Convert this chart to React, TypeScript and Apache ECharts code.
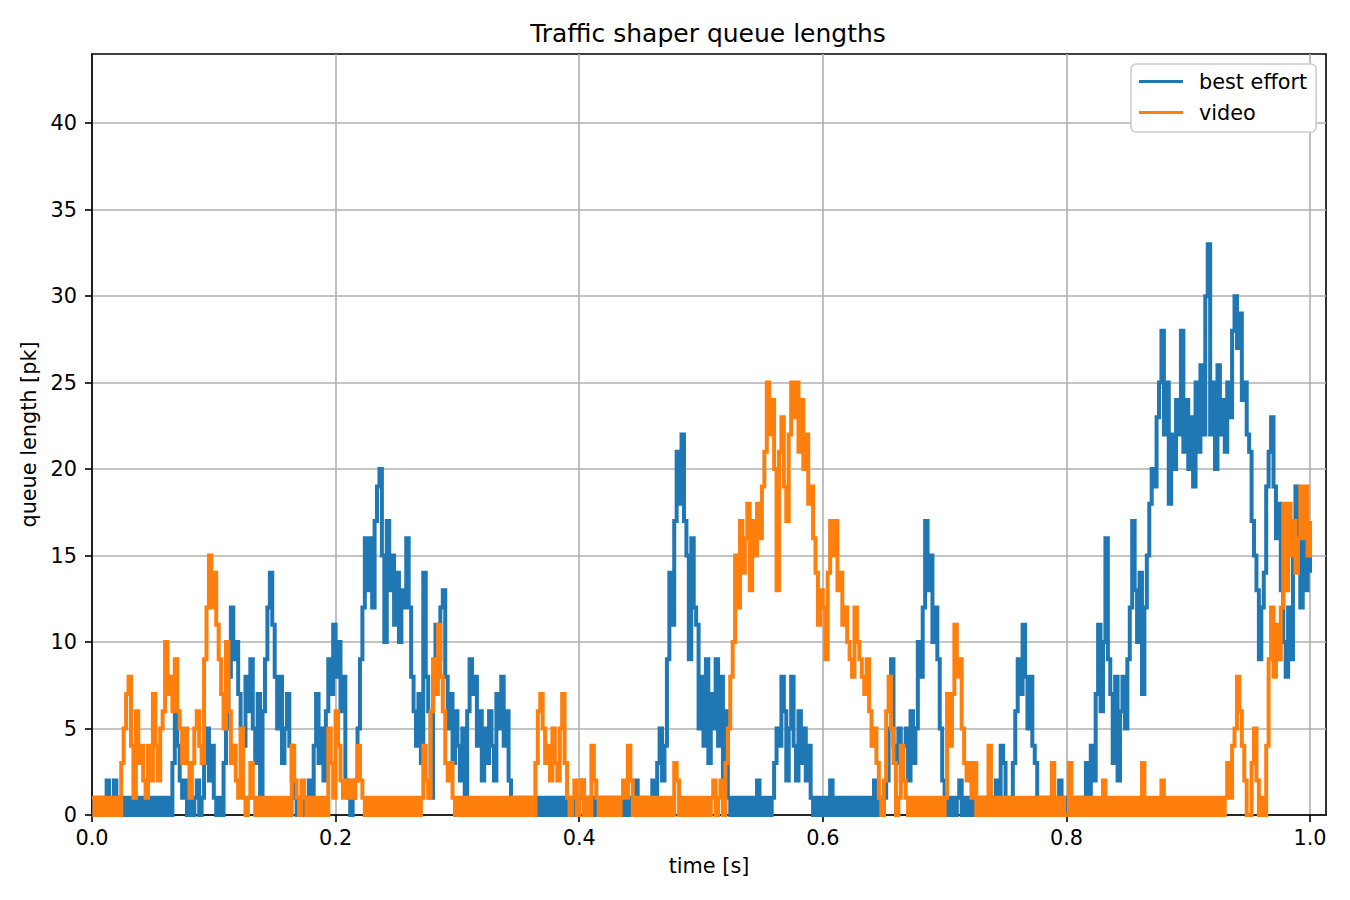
import { useEffect, useRef } from "react";
import * as echarts from "echarts";

const FONT = "DejaVu Sans";
const TIME_STEP = 0.002;

// queue length samples, one every TIME_STEP seconds, from t = 0 to t = 1.0
const bestEffortQueue = [
  1,0,1,0,1,0,2,0,1,2,0,1,0,1,0,1,0,1,0,1,0,1,0,1,0,
  1,0,1,0,1,0,1,0,3,6,4,2,1,2,0,1,0,1,2,0,1,3,5,2,4,
  1,0,1,0,3,5,8,12,9,10,7,5,4,8,6,9,5,3,7,1,6,9,12,14,11,
  8,5,8,3,5,7,4,2,1,0,1,0,1,0,2,1,4,7,3,5,2,6,9,7,11,
  8,10,6,8,2,1,0,1,2,5,9,12,16,13,16,12,17,19,20,15,10,17,13,15,11,
  14,10,13,12,16,12,8,6,4,7,3,14,8,6,1,8,11,9,12,13,8,5,7,3,6,
  4,2,5,0,6,9,7,8,4,6,2,5,3,6,4,2,7,5,8,4,6,2,1,0,1,
  0,1,0,1,0,1,0,1,0,1,0,1,0,1,0,1,0,1,0,1,0,1,0,1,0,
  1,2,0,1,0,1,0,1,0,1,0,1,0,1,0,1,0,1,0,1,0,1,0,2,0,
  1,0,1,0,1,2,0,3,5,2,4,9,14,11,17,21,18,22,17,15,9,16,12,11,5,
  8,4,9,3,7,5,9,4,8,2,6,1,0,1,0,1,0,1,0,1,0,1,0,2,0,
  1,0,1,0,1,3,5,4,8,6,2,5,8,4,2,6,3,5,2,4,1,0,1,0,1,
  0,1,0,2,0,1,0,1,0,1,0,1,0,1,0,1,0,1,0,1,0,2,0,1,0,
  1,2,5,9,4,3,5,2,4,5,2,6,3,5,10,8,12,17,13,15,10,12,9,5,2,
  0,1,0,1,0,1,2,0,1,0,1,0,1,0,1,0,1,0,1,0,1,2,0,4,3,
  1,0,1,3,6,9,7,11,8,5,8,4,3,1,0,1,0,1,0,1,0,1,2,0,1,
  0,1,0,1,0,1,0,1,3,1,4,2,7,11,6,10,16,9,7,3,8,2,6,8,5,
  9,12,17,13,10,14,7,12,15,18,20,19,23,25,28,22,25,18,22,20,24,22,28,21,24,
  20,23,19,25,21,26,22,30,33,22,25,20,26,22,24,21,25,23,28,30,27,29,24,25,22,
  21,17,15,13,9,12,14,19,21,23,19,16,18,13,10,8,12,9,15,19,16,12,16,13,15,14,
];

const videoQueue = [
  1,0,1,0,1,0,1,0,1,0,1,0,3,5,7,8,4,1,6,3,4,2,1,4,2,
  7,4,2,5,6,10,7,8,6,9,6,5,3,5,3,1,3,5,6,4,3,9,12,15,12,
  14,11,9,7,5,10,6,3,4,2,1,5,1,0,1,3,1,0,1,0,1,0,1,0,1,
  0,1,0,1,0,1,0,4,2,1,0,2,1,0,1,0,1,0,1,0,1,0,5,3,1,
  6,4,2,1,2,1,2,1,2,4,2,1,0,1,0,1,0,1,0,1,0,1,0,1,0,
  1,0,1,0,1,0,1,0,1,0,1,4,2,1,6,9,7,11,8,6,3,2,3,1,0,
  1,0,1,0,1,0,1,0,1,0,1,0,1,0,1,0,1,0,1,0,1,0,1,0,1,
  0,1,0,1,0,1,0,3,6,7,5,3,4,2,5,3,2,5,7,3,1,0,1,2,0,
  1,2,0,1,0,4,2,1,0,1,0,1,0,1,0,1,0,1,2,1,4,2,0,1,0,
  1,0,1,0,1,0,1,0,1,0,1,0,1,0,3,2,0,1,0,1,0,1,0,1,0,
  1,0,1,0,1,2,0,1,2,0,3,5,8,10,15,12,17,14,16,18,13,17,15,18,16,
  19,21,25,22,24,20,13,21,23,19,17,22,25,23,25,21,24,20,22,18,19,16,14,11,13,
  12,9,14,17,15,17,13,14,11,12,10,9,8,12,10,9,8,7,9,6,4,5,3,1,0,
  2,6,8,5,3,0,1,4,2,1,0,1,0,1,0,1,0,1,0,1,0,1,0,1,0,
  1,7,4,7,11,8,9,5,3,2,3,1,3,0,1,0,1,0,4,0,1,0,1,0,1,
  0,1,0,1,0,1,0,1,0,1,0,1,0,1,0,1,0,1,0,3,0,1,0,1,0,
  0,3,0,1,0,1,0,1,0,1,0,1,0,1,0,2,0,1,0,1,0,1,0,1,0,
  1,0,1,0,1,0,3,0,1,0,1,0,1,0,2,0,1,0,1,0,1,0,1,0,1,
  0,1,0,1,0,1,0,1,0,1,0,1,0,1,0,1,3,1,4,5,8,6,4,2,0,
  0,3,5,2,0,1,0,4,9,12,8,11,9,12,18,13,18,15,17,14,16,19,16,19,15,17,
];

const seriesNames = ["best effort", "video"];
const seriesColors = ["#1f77b4", "#ff7f0e"];
const xTicks = [0, 0.2, 0.4, 0.6, 0.8, 1.0];
const yTicks = [0, 5, 10, 15, 20, 25, 30, 35, 40];
const X_MAX = 1.0131;
const Y_MAX = 44;

const toPairs = (vals: number[]) =>
  vals.map((v, i) => [Number((i * TIME_STEP).toFixed(4)), v]);

export default function App() {
  const ref = useRef<HTMLDivElement>(null);

  useEffect(() => {
    if (!ref.current) return;
    const chart = echarts.init(ref.current, null, { renderer: "svg" });
    const axisText = { fontFamily: FONT, fontSize: 20.8, color: "#000" };
    chart.setOption({
      animation: false,
      backgroundColor: "#ffffff",
      title: {
        text: "Traffic shaper queue lengths",
        left: 703,
        top: 16,
        textAlign: "center",
        textStyle: { fontFamily: FONT, fontSize: 25, fontWeight: "normal", color: "#000" },
      },
      legend: {
        left: 1131,
        top: 64,
        orient: "vertical",
        icon: "rect",
        itemWidth: 44,
        itemHeight: 3,
        itemGap: 10,
        padding: [7, 9, 9, 8],
        backgroundColor: "#ffffff",
        borderColor: "#cccccc",
        borderWidth: 1.6,
        borderRadius: 5,
        textStyle: { ...axisText, padding: [0, 0, 0, 11] },
        data: seriesNames,
      },
      grid: {
        left: 92,
        top: 54,
        width: 1234,
        height: 761,
        show: true,
        borderColor: "#000",
        borderWidth: 1.6,
        backgroundColor: "transparent",
      },
      xAxis: {
        type: "value",
        min: 0,
        max: X_MAX,
        interval: 0.2,
        name: "time [s]",
        nameLocation: "middle",
        nameGap: 40,
        nameTextStyle: axisText,
        axisLine: { show: true, onZero: false, lineStyle: { color: "#000", width: 1.6 } },
        axisTick: { show: true, length: 7, lineStyle: { color: "#000", width: 1.6 }, customValues: xTicks },
        axisLabel: {
          ...axisText,
          margin: 12,
          customValues: xTicks,
          formatter: (v: number) => v.toFixed(1),
        },
        splitLine: { show: true, lineStyle: { color: "#b0b0b0", width: 1.6 } },
      },
      yAxis: {
        type: "value",
        min: 0,
        max: Y_MAX,
        interval: 5,
        name: "queue length [pk]",
        nameLocation: "middle",
        nameGap: 41,
        nameRotate: 90,
        nameTextStyle: axisText,
        axisLine: { show: true, onZero: false, lineStyle: { color: "#000", width: 1.6 } },
        axisTick: { show: true, length: 7, lineStyle: { color: "#000", width: 1.6 }, customValues: yTicks },
        axisLabel: {
          ...axisText,
          margin: 15,
          customValues: yTicks,
          formatter: (v: number) => String(v),
        },
        splitLine: { show: true, lineStyle: { color: "#b0b0b0", width: 1.6 } },
      },
      series: [bestEffortQueue, videoQueue].map((vals, k) => ({
        type: "line",
        name: seriesNames[k],
        data: toPairs(vals),
        step: "end",
        symbol: "none",
        showSymbol: false,
        color: seriesColors[k],
        lineStyle: { color: seriesColors[k], width: 4, join: "miter", cap: "butt" },
        itemStyle: { color: seriesColors[k] },
      })),
    });
    return () => chart.dispose();
  }, []);

  return (
    <div
      ref={ref}
      style={{ position: "fixed", left: 0, top: 0, width: 1350, height: 900, background: "#fff" }}
    />
  );
}
